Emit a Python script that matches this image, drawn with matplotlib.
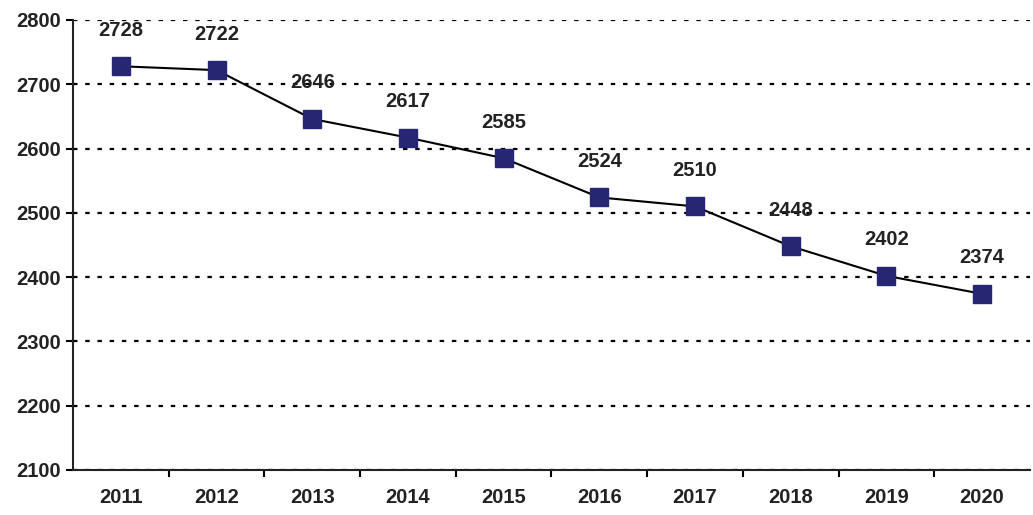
import matplotlib.pyplot as plt
import numpy as np

# Dados
anos = ["2011", "2012", "2013", "2014", "2015", "2016", "2017", "2018", "2019", "2020"]
valores = [2728, 2722, 2646, 2617, 2585, 2524, 2510, 2448, 2402, 2374]

plt.rcParams['font.family'] = ['Liberation Sans', 'DejaVu Sans']
plt.rcParams['font.weight'] = 'bold'

fig = plt.figure(figsize=(10.33, 5.15), dpi=100)
ax = fig.add_axes([0.0707, 0.0874, 0.9263, 0.8738])

x = np.arange(len(anos))
ax.plot(x, valores, color='black', lw=1.5, marker='s', ms=12.5,
        mfc='#262673', mec='#262673', zorder=3)

for xi, v in zip(x, valores):
    ax.annotate(str(v), (xi, v), xytext=(0, 26), textcoords='offset points',
                ha='center', va='center', fontsize=14.5, fontweight='bold',
                color='#222222', zorder=4)

ax.set_xlim(-0.5, len(anos) - 0.5)
ax.set_ylim(2100, 2800)
ax.set_yticks(np.arange(2100, 2801, 100))
ax.yaxis.grid(True, color='black', linestyle=(0, (2, 3.5)), lw=1.6)
ax.set_axisbelow(True)

# rotulos no centro, ticks entre categorias
ax.set_xticks(x)
ax.set_xticklabels(anos)
ax.set_xticks(np.arange(0.5, len(anos) - 0.5, 1), minor=True)
ax.tick_params(axis='x', which='major', length=0, pad=13, labelsize=14.5)
ax.tick_params(axis='x', which='minor', length=5, width=1.5, direction='out')
ax.tick_params(axis='y', length=5, width=1.5, labelsize=14.5, pad=4)

for s in ['top', 'right']:
    ax.spines[s].set_visible(False)
for s in ['left', 'bottom']:
    ax.spines[s].set_linewidth(1.5)
    ax.spines[s].set_color('#222222')

for lbl in ax.get_xticklabels() + ax.get_yticklabels():
    lbl.set_fontweight('bold')
    lbl.set_color('#222222')

plt.savefig('out.png', dpi=100)
